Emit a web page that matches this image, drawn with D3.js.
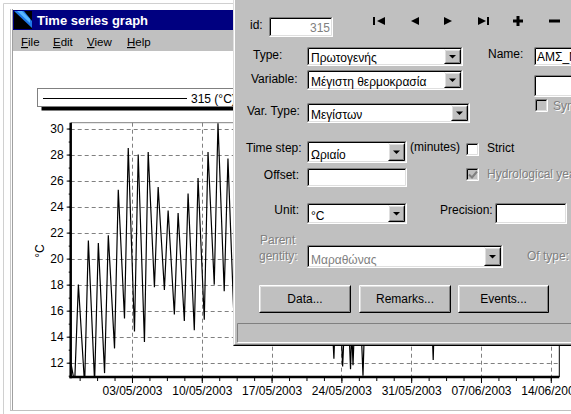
<!DOCTYPE html>
<html>
<head>
<meta charset="utf-8">
<title>Time series graph</title>
<script src="https://cdn.jsdelivr.net/npm/d3@7"></script>
<style>
  body { margin: 0; background: #fff; overflow: hidden; }
  svg { display: block; font-family: "Liberation Sans", Arial, sans-serif; }
</style>
</head>
<body>
<div id="main-chart"></div>
<script>
// station 315, hourly max temperature: daily lows and highs
// (the part behind the dialog is only estimated)
const obsTimes = [
    "2003-04-26 22:00",
    "2003-04-27 06:00", "2003-04-27 15:00", "2003-04-28 06:00", "2003-04-28 15:00",
    "2003-04-29 06:00", "2003-04-29 15:00", "2003-04-30 06:00", "2003-04-30 15:00",
    "2003-05-01 06:00", "2003-05-01 15:00", "2003-05-02 06:00", "2003-05-02 15:00",
    "2003-05-03 06:00", "2003-05-03 15:00", "2003-05-04 06:00", "2003-05-04 15:00",
    "2003-05-05 06:00", "2003-05-05 15:00", "2003-05-06 06:00", "2003-05-06 15:00",
    "2003-05-07 06:00", "2003-05-07 15:00", "2003-05-08 06:00", "2003-05-08 15:00",
    "2003-05-09 06:00", "2003-05-09 15:00", "2003-05-10 06:00", "2003-05-10 15:00",
    "2003-05-11 06:00", "2003-05-11 15:00", "2003-05-12 06:00", "2003-05-12 15:00",
    "2003-05-13 06:00", "2003-05-13 15:00", "2003-05-14 06:00", "2003-05-14 15:00",
    "2003-05-15 06:00", "2003-05-15 15:00", "2003-05-16 06:00", "2003-05-16 15:00",
    "2003-05-17 06:00", "2003-05-17 15:00", "2003-05-18 06:00", "2003-05-18 15:00",
    "2003-05-19 06:00", "2003-05-19 15:00", "2003-05-20 06:00", "2003-05-20 15:00",
    "2003-05-21 06:00", "2003-05-21 15:00", "2003-05-22 06:00", "2003-05-22 15:00",
    "2003-05-23 06:00", "2003-05-23 15:00", "2003-05-24 03:00", "2003-05-24 13:00",
    "2003-05-24 22:00", "2003-05-25 01:00", "2003-05-25 04:00", "2003-05-25 15:00",
    "2003-05-26 04:00", "2003-05-26 15:00", "2003-05-27 06:00", "2003-05-27 15:00",
    "2003-05-28 06:00", "2003-05-28 15:00", "2003-05-29 06:00", "2003-05-29 15:00",
    "2003-05-30 06:00", "2003-05-30 15:00", "2003-05-31 06:00", "2003-05-31 15:00",
    "2003-06-01 06:00", "2003-06-01 15:00", "2003-06-02 05:00", "2003-06-02 15:00"
];
const obsValues = [
    11.8,
    10.4, 18.0, 10.3, 21.4,
    10.5, 21.2, 11.2, 21.8,
    13.1, 25.3, 15.4, 28.5,
    14.4, 28.0, 13.6, 28.2,
    17.8, 25.5, 17.6, 23.7,
    15.7, 23.5, 15.2, 25.0,
    14.5, 26.2, 15.3, 28.2,
    18.0, 30.4, 17.5, 27.7,
    14.9, 26.5, 16.0, 27.0,
    16.5, 28.0, 17.0, 27.5,
    16.2, 26.0, 15.5, 25.0,
    15.0, 24.5, 14.8, 25.5,
    15.5, 24.0, 14.5, 22.5,
    12.3, 21.0, 11.7, 19.0,
    11.5, 14.5, 11.8, 21.5,
    11.0, 22.5, 15.0, 24.0,
    16.0, 25.5, 16.5, 26.0,
    15.5, 25.0, 14.6, 24.5,
    15.0, 25.5, 12.2, 24.0
];

const yTicks = [12, 14, 16, 18, 20, 22, 24, 26, 28, 30];
const xTicks = ["2003-05-03 00:00", "2003-05-10 00:00", "2003-05-17 00:00", "2003-05-24 00:00",
                "2003-05-31 00:00", "2003-06-07 00:00", "2003-06-14 00:00"];
const xExtent = ["2003-04-26 20:30", "2003-06-14 20:30"];
const yExtent = [10.9, 30.45];
const minorStepHours = 42;
const seriesLabel = "315 (°C)";
const unitLabel = "°C";
const menuItems = ["File", "Edit", "View", "Help"];

const W = 571, H = 414;
const plot = {left: 70.7, right: 559.3, top: 122.7, bottom: 377};
const parseT = d3.utcParse("%Y-%m-%d %H:%M");
const series = obsTimes.map((t, i) => ({date: parseT(t), value: obsValues[i]}));

const svg = d3.select("#main-chart")
    .append("svg")
    .attr("width", W)
    .attr("height", H);

// ---------- graph window ----------
svg.append("rect").attr("width", W).attr("height", H).attr("fill", "#fff");
svg.append("path").attr("d", "M3.5,414V3.5H571").attr("fill", "none").attr("stroke", "#d0d0d0");
svg.append("path").attr("d", "M10.5,411V9").attr("stroke", "#c8c8c8");
svg.append("path").attr("d", "M12.5,411V9").attr("stroke", "#a0a0a0");
svg.append("path").attr("d", "M10,410.5H571").attr("stroke", "#c0c0c0");

const x = d3.scaleUtc()
    .domain(xExtent.map(parseT))
    .range([plot.left, plot.right]);

const y = d3.scaleLinear()
    .domain(yExtent)
    .range([plot.bottom, plot.top]);

const chart = svg.append("g");

// grid
chart.append("g")
    .selectAll("line")
    .data(yTicks)
    .enter()
    .append("line")
    .attr("x1", plot.left)
    .attr("x2", plot.right)
    .attr("y1", d => Math.round(y(d)) + 0.5)
    .attr("y2", d => Math.round(y(d)) + 0.5)
    .attr("stroke", "#808080")
    .attr("stroke-dasharray", "4,3");

chart.append("g")
    .selectAll("line")
    .data(xTicks.map(parseT))
    .enter()
    .append("line")
    .attr("x1", d => Math.round(x(d)) + 0.5)
    .attr("x2", d => Math.round(x(d)) + 0.5)
    .attr("y1", plot.top)
    .attr("y2", plot.bottom)
    .attr("stroke", "#808080")
    .attr("stroke-dasharray", "4,3");

// frame
chart.append("line").attr("x1", plot.left).attr("x2", plot.right)
    .attr("y1", plot.top).attr("y2", plot.top).attr("stroke", "#808080");
chart.append("line").attr("x1", plot.right).attr("x2", plot.right)
    .attr("y1", plot.top).attr("y2", plot.bottom).attr("stroke", "#000");

// series
svg.append("clipPath").attr("id", "plot-clip")
    .append("rect")
    .attr("x", plot.left).attr("y", plot.top)
    .attr("width", plot.right - plot.left).attr("height", plot.bottom - plot.top);

chart.append("path")
    .datum(series)
    .attr("clip-path", "url(#plot-clip)")
    .attr("fill", "none")
    .attr("stroke", "#000")
    .attr("stroke-width", 1.2)
    .attr("d", d3.line().x(d => x(d.date)).y(d => y(d.value)));

// axes
const firstMajor = parseT(xTicks[0]);
const minorTicks = d3.range(-4, 25)
    .map(k => d3.utcHour.offset(firstMajor, k * minorStepHours))
    .filter(d => x(d) > plot.left && x(d) < plot.right);

chart.append("g")
    .attr("transform", `translate(0,${plot.bottom})`)
    .call(d3.axisBottom(x).tickValues(minorTicks).tickSize(4).tickFormat(""))
    .call(g => g.select(".domain").remove());

chart.append("g")
    .attr("transform", `translate(0,${plot.bottom})`)
    .call(d3.axisBottom(x)
        .tickValues(xTicks.map(parseT))
        .tickSize(6)
        .tickPadding(3)
        .tickFormat(d3.utcFormat("%d/%m/%Y")))
    .call(g => g.select(".domain").remove())
    .call(g => g.selectAll("text")
        .attr("font-size", 12)
        .attr("font-family", "Liberation Sans, Arial, sans-serif")
        .attr("fill", "#000"));

chart.append("g")
    .attr("transform", `translate(${plot.left},0)`)
    .call(d3.axisLeft(y).tickValues(d3.range(11, 31)).tickSize(2).tickFormat(""))
    .call(g => g.select(".domain").remove());

chart.append("g")
    .attr("transform", `translate(${plot.left},0)`)
    .call(d3.axisLeft(y).tickValues(yTicks).tickSize(4).tickPadding(3))
    .call(g => g.select(".domain").remove())
    .call(g => g.selectAll("text")
        .attr("font-size", 12)
        .attr("font-family", "Liberation Sans, Arial, sans-serif")
        .attr("fill", "#000"));

chart.append("line").attr("x1", plot.left).attr("x2", plot.left)
    .attr("y1", plot.top).attr("y2", plot.bottom + 1.2)
    .attr("stroke", "#000").attr("stroke-width", 2.5);
chart.append("line").attr("x1", plot.left - 1.2).attr("x2", plot.right)
    .attr("y1", plot.bottom).attr("y2", plot.bottom)
    .attr("stroke", "#000").attr("stroke-width", 2.5);

chart.append("text")
    .attr("transform", `translate(43.5,251) rotate(-90)`)
    .attr("text-anchor", "middle")
    .attr("font-size", 12)
    .text(unitLabel);

// legend
const legend = svg.append("g");
legend.append("rect").attr("x", 41.5).attr("y", 92.5).attr("width", 300).attr("height", 18).attr("fill", "#000");
legend.append("rect").attr("x", 37.5).attr("y", 88.5).attr("width", 300).attr("height", 18)
    .attr("fill", "#fff").attr("stroke", "#808080");
legend.append("line").attr("x1", 43).attr("x2", 187).attr("y1", 98.5).attr("y2", 98.5).attr("stroke", "#000");
legend.append("text").attr("x", 191).attr("y", 103).attr("font-size", 12).text(seriesLabel);

// title bar and menu
svg.append("rect").attr("x", 13).attr("y", 10).attr("width", 300).attr("height", 20).attr("fill", "#000080");
svg.append("rect").attr("x", 14).attr("y", 11).attr("width", 18).attr("height", 18).attr("fill", "#000");
svg.append("path").attr("d", "M14,11H24L32,21V28Z").attr("fill", "#1e78e8");
svg.append("path").attr("d", "M17,11H22L30,19V23Z").attr("fill", "#58b8ff");
svg.append("text").attr("x", 37).attr("y", 25).attr("fill", "#fff")
    .attr("font-size", 13).attr("font-weight", "bold").text("Time series graph");

svg.append("rect").attr("x", 13).attr("y", 30).attr("width", 300).attr("height", 21).attr("fill", "#c0c0c0");
const menuX = [21, 53, 87, 127];
menuItems.forEach((m, i) => {
    const t = svg.append("text").attr("x", menuX[i]).attr("y", 46).attr("font-size", 11.5);
    t.append("tspan").attr("text-decoration", "underline").text(m[0]);
    t.append("tspan").text(m.slice(1));
});

// ---------- dialog ----------
const dlg = svg.append("g").attr("font-size", 12);

function edge(g, x0, y0, w, h, tl, br) {
    g.append("path").attr("d", `M${x0 + 0.5},${y0 + h - 0.5}V${y0 + 0.5}H${x0 + w - 0.5}`)
        .attr("fill", "none").attr("stroke", tl);
    g.append("path").attr("d", `M${x0 + 0.5},${y0 + h - 0.5}H${x0 + w - 0.5}V${y0 + 0.5}`)
        .attr("fill", "none").attr("stroke", br);
}
function sunken(x0, y0, w, h, fill) {
    dlg.append("rect").attr("x", x0).attr("y", y0).attr("width", w).attr("height", h).attr("fill", fill || "#fff");
    edge(dlg, x0, y0, w, h, "#808080", "#fff");
    edge(dlg, x0 + 1, y0 + 1, w - 2, h - 2, "#000", "#dfdfdf");
}
function raised(x0, y0, w, h) {
    dlg.append("rect").attr("x", x0).attr("y", y0).attr("width", w).attr("height", h).attr("fill", "#c0c0c0");
    edge(dlg, x0, y0, w, h, "#fff", "#000");
    edge(dlg, x0 + 1, y0 + 1, w - 2, h - 2, "#dfdfdf", "#808080");
}
function label(txt, x0, y0, opts) {
    opts = opts || {};
    if (opts.disabled) {
        dlg.append("text").attr("x", x0 + 1).attr("y", y0 + 1).attr("fill", "#fff")
            .attr("text-anchor", opts.anchor || "start").text(txt);
    }
    dlg.append("text").attr("x", x0).attr("y", y0)
        .attr("fill", opts.disabled || opts.gray ? "#808080" : "#000")
        .attr("text-anchor", opts.anchor || "start").text(txt);
}
function combo(x0, y0, w, h, txt, disabled) {
    sunken(x0, y0, w, h, "#fff");
    raised(x0 + w - 19, y0 + 2, 17, h - 4);
    const cx = x0 + w - 10.5, cy = y0 + h / 2;
    dlg.append("path").attr("d", `M${cx - 3.5},${cy - 1.5}H${cx + 3.5}L${cx},${cy + 2}Z`).attr("fill", "#000");
    label(txt, x0 + 4, y0 + h - 4.5, {gray: disabled});
}
function checkbox(x0, y0, fill) {
    sunken(x0, y0, 13, 13, fill);
}

dlg.append("rect").attr("x", 233).attr("y", -5).attr("width", 345).attr("height", 351).attr("fill", "#c0c0c0");
edge(dlg, 233, -5, 345, 351, "#dfdfdf", "#000");
edge(dlg, 234, -4, 343, 349, "#fff", "#808080");

// id and navigation
label("id:", 250, 28.5);
sunken(269, 17, 64, 20, "#fff");
label("315", 330, 32, {gray: true, anchor: "end"});

const nav = dlg.append("g").attr("fill", "#000");
nav.append("rect").attr("x", 373).attr("y", 17).attr("width", 2).attr("height", 8);
nav.append("path").attr("d", "M385,17V25L377,21Z");
nav.append("path").attr("d", "M419,17V25L411,21Z");
nav.append("path").attr("d", "M444,17V25L452,21Z");
nav.append("path").attr("d", "M478,17V25L486,21Z");
nav.append("rect").attr("x", 487).attr("y", 17).attr("width", 2).attr("height", 8);
nav.append("rect").attr("x", 513).attr("y", 19.5).attr("width", 10).attr("height", 3);
nav.append("rect").attr("x", 516.5).attr("y", 16).attr("width", 3).attr("height", 10);
nav.append("rect").attr("x", 549).attr("y", 19.5).attr("width", 11).attr("height", 3);

// left column
label("Type:", 253, 58.5);
combo(307, 47, 156, 19, "Πρωτογενής");
label("Variable:", 251, 82.5);
combo(307, 70, 156, 20, "Μέγιστη θερμοκρασία");
label("Var. Type:", 247, 114.5);
combo(307, 103, 163, 20, "Μεγίστων");

// right column
label("Name:", 488, 58);
sunken(534, 47, 44, 19, "#fff");
label("ΑΜΣ_ΜΑΡ", 537, 61);
sunken(534, 75, 44, 22, "#fff");
checkbox(535, 99, "#c0c0c0");
label("Synchronize", 553, 110, {disabled: true});

label("Time step:", 246, 152);
combo(307, 141, 100, 22, "Ωριαίο");
label("(minutes)", 410, 151);
checkbox(466, 143, "#fff");
label("Strict", 487, 152);

label("Offset:", 299, 178.5, {anchor: "end"});
sunken(307, 168, 100, 19, "#fff");
checkbox(466, 168, "#c0c0c0");
dlg.append("path").attr("d", "M469,174.5L472,177.5L477,171.5").attr("fill", "none")
    .attr("stroke", "#808080").attr("stroke-width", 2);
label("Hydrological year", 487, 178, {disabled: true});

label("Unit:", 299, 213.5, {anchor: "end"});
combo(307, 203, 100, 21, unitLabel);
label("Precision:", 440, 213.5);
sunken(495, 203, 72, 21, "#fff");

label("Parent", 260, 243.5, {disabled: true});
label("gentity:", 259, 260, {disabled: true});
combo(307, 245, 196, 23, "Μαραθώνας", true);
label("Of type:", 527, 260, {disabled: true});

// buttons
[["Data...", 259, 92], ["Remarks...", 359, 92], ["Events...", 458, 91]].forEach(b => {
    raised(b[1], 285, b[2], 28);
    dlg.append("text").attr("x", b[1] + b[2] / 2).attr("y", 303)
        .attr("text-anchor", "middle").text(b[0]);
});

// status bar
edge(dlg, 237, 323, 340, 20, "#808080", "#fff");
</script>
</body>
</html>
